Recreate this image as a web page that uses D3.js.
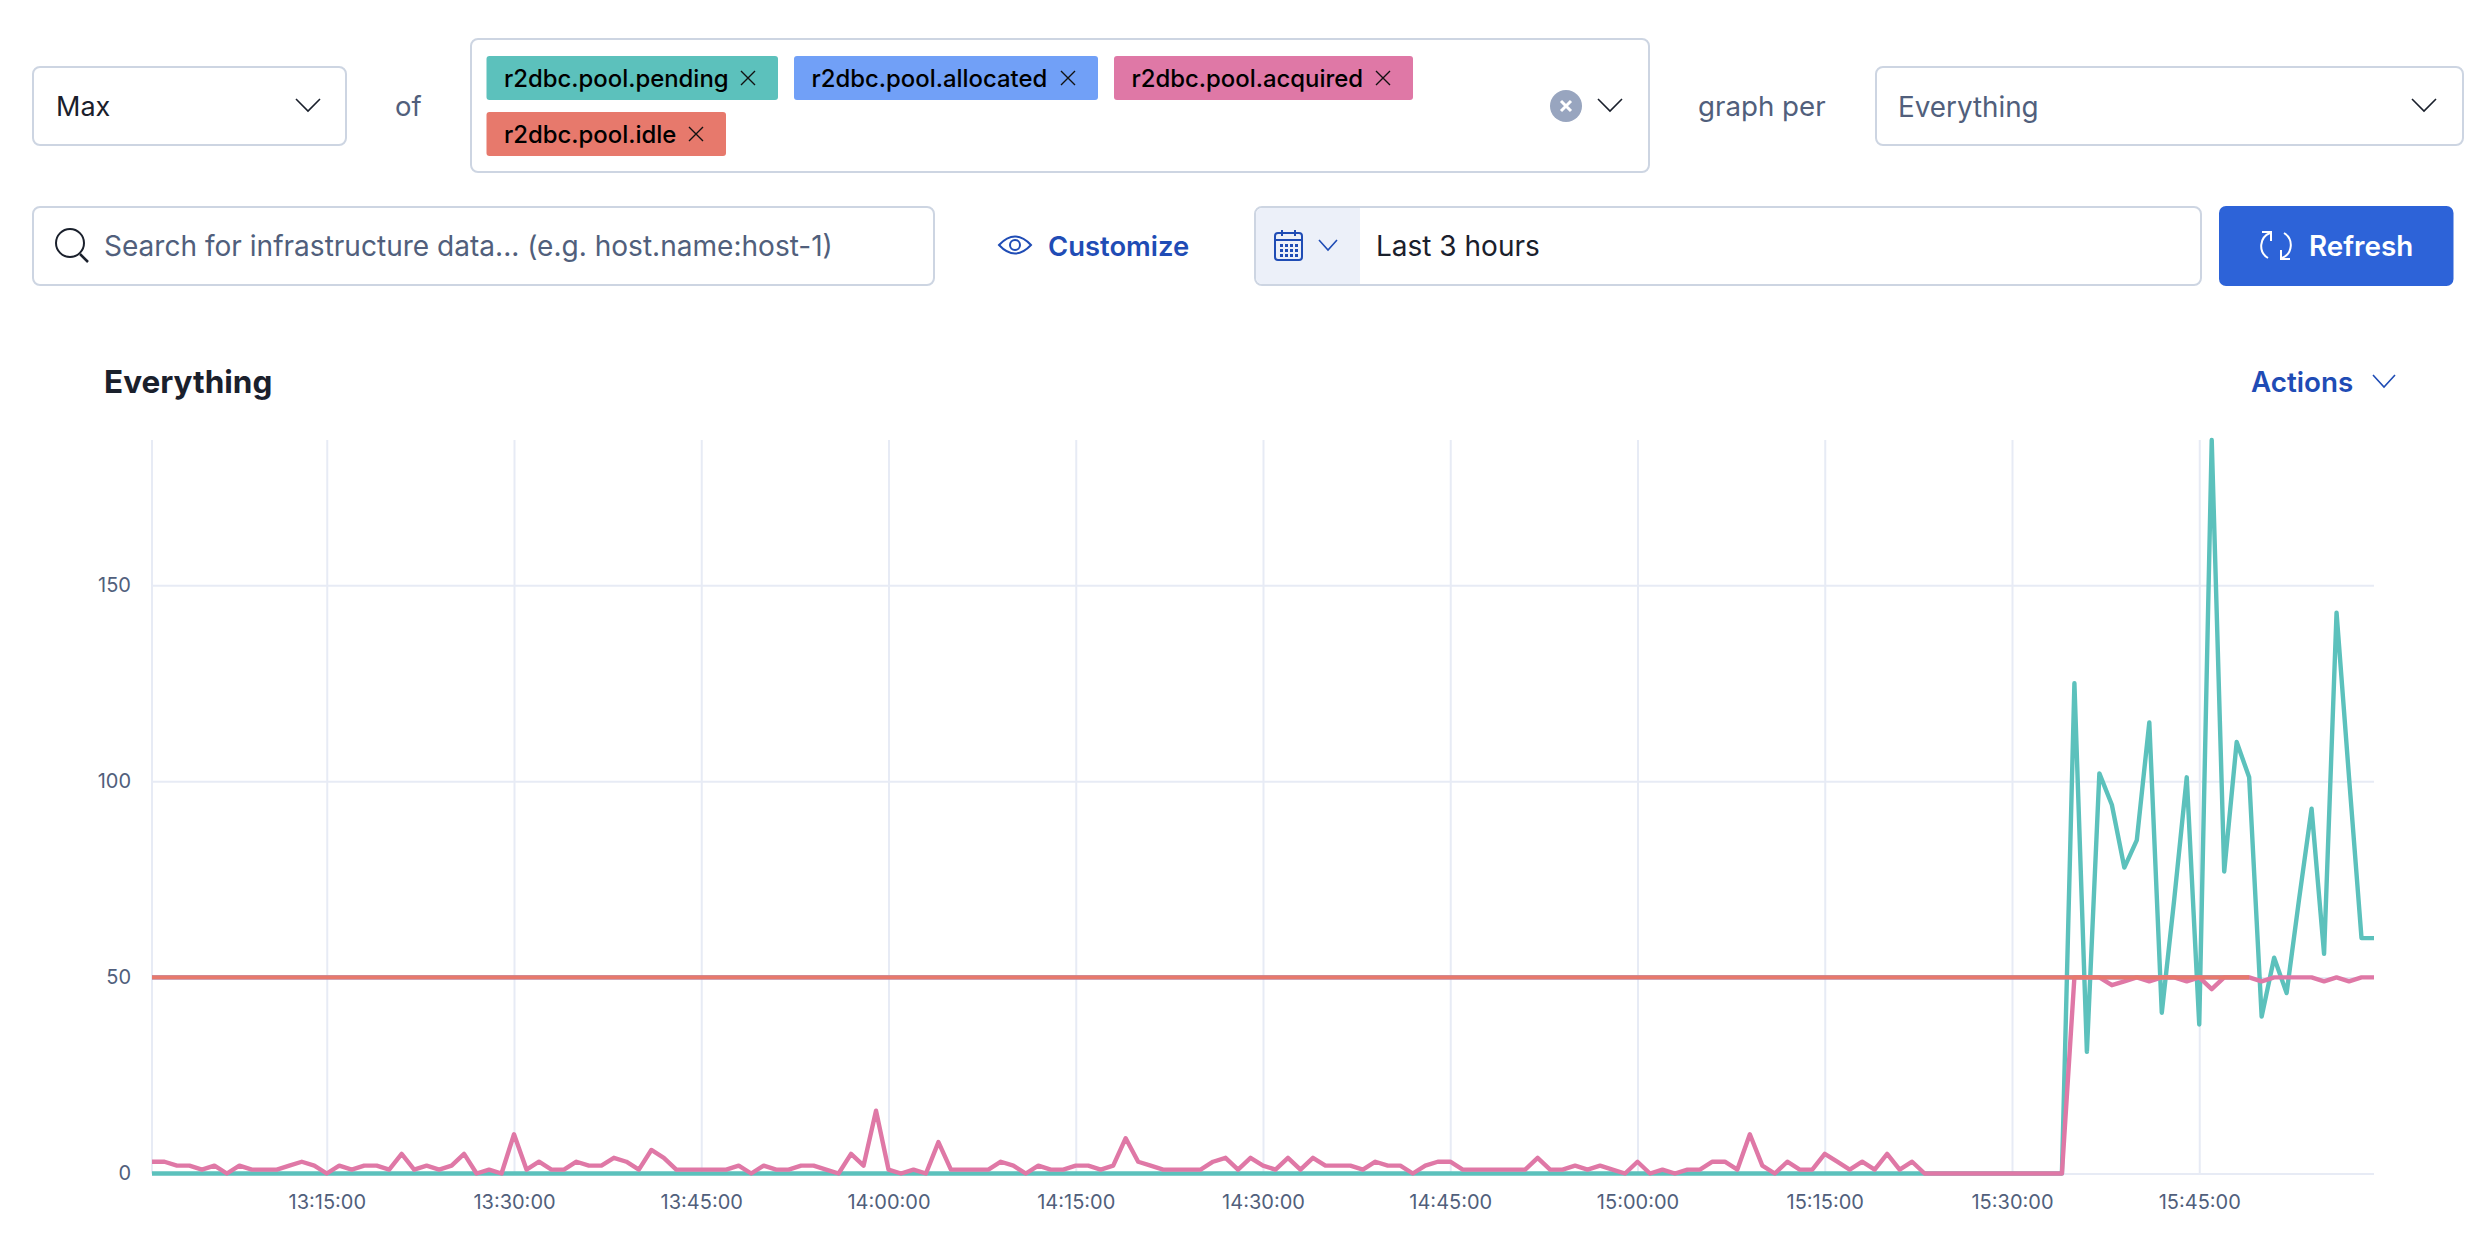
<!DOCTYPE html>
<html>
<head>
<meta charset="utf-8">
<script src="https://cdn.jsdelivr.net/npm/d3@7"></script>
<style>
  body { margin: 0; background: #fff; }
  text { font-family: Inter, "Noto Sans", sans-serif; }
</style>
</head>
<body>
<div id="container"></div>
<script>
// one sample per minute, 13:01 to 15:59
const startTime = "13:01:00"
const endTime = "15:59:00"
const xTickLabels = ["13:15:00", "13:30:00", "13:45:00", "14:00:00", "14:15:00", "14:30:00", "14:45:00", "15:00:00", "15:15:00", "15:30:00", "15:45:00"]
const yTicks = [0, 50, 100, 150]
const yMax = 187

const pending = [
  0,0,0,0,0,0,0,0,0,0, 0,0,0,0,0,0,0,0,0,0, 0,0,0,0,0,0,0,0,0,0,
  0,0,0,0,0,0,0,0,0,0, 0,0,0,0,0,0,0,0,0,0, 0,0,0,0,0,0,0,0,0,0,
  0,0,0,0,0,0,0,0,0,0, 0,0,0,0,0,0,0,0,0,0, 0,0,0,0,0,0,0,0,0,0,
  0,0,0,0,0,0,0,0,0,0, 0,0,0,0,0,0,0,0,0,0, 0,0,0,0,0,0,0,0,0,0,
  0,0,0,0,0,0,0,0,0,0, 0,0,0,0,0,0,0,0,0,0, 0,0,0,0,0,0,0,0,0,0, 0,0,0,0,
  125,31,102,94,78,85,115,41,70,101,38,187,77,110,101,40,55,46,70,93,56,143,101,60,60
]
const allocated = [
  50,50,50,50,50,50,50,50,50,50, 50,50,50,50,50,50,50,50,50,50, 50,50,50,50,50,50,50,50,50,50,
  50,50,50,50,50,50,50,50,50,50, 50,50,50,50,50,50,50,50,50,50, 50,50,50,50,50,50,50,50,50,50,
  50,50,50,50,50,50,50,50,50,50, 50,50,50,50,50,50,50,50,50,50, 50,50,50,50,50,50,50,50,50,50,
  50,50,50,50,50,50,50,50,50,50, 50,50,50,50,50,50,50,50,50,50, 50,50,50,50,50,50,50,50,50,50,
  50,50,50,50,50,50,50,50,50,50, 50,50,50,50,50,50,50,50,50,50, 50,50,50,50,50,50,50,50,50,50,
  50,50,50,50,50,50,50,50,50,50, 50,50,50,50,50,50,50,50,50
]
const acquired = [
  3,3,2,2,1,2,0,2,1,1, 1,2,3,2,0,2,1,2,2,1, 5,1,2,1,2,5,0,1,0,10,
  1,3,1,1,3,2,2,4,3,1, 6,4,1,1,1,1,1,2,0,2, 1,1,2,2,1,0,5,2,16,1,
  0,1,0,8,1,1,1,1,3,2, 0,2,1,1,2,2,1,2,9,3, 2,1,1,1,1,3,4,1,4,2,
  1,4,1,4,2,2,2,1,3,2, 2,0,2,3,3,1,1,1,1,1, 1,4,1,1,2,1,2,1,0,3,
  0,1,0,1,1,3,3,1,10,2, 0,3,1,1,5,3,1,3,1,5, 1,3,0,0,0,0,0,0,0,0, 0,0,0,0,
  50,50,50,48,49,50,49,50,50,49,50,47,50,50,50,49,50,50,50,50,49,50,49,50,50
]
const idle = [
  50,50,50,50,50,50,50,50,50,50, 50,50,50,50,50,50,50,50,50,50, 50,50,50,50,50,50,50,50,50,50,
  50,50,50,50,50,50,50,50,50,50, 50,50,50,50,50,50,50,50,50,50, 50,50,50,50,50,50,50,50,50,50,
  50,50,50,50,50,50,50,50,50,50, 50,50,50,50,50,50,50,50,50,50, 50,50,50,50,50,50,50,50,50,50,
  50,50,50,50,50,50,50,50,50,50, 50,50,50,50,50,50,50,50,50,50, 50,50,50,50,50,50,50,50,50,50,
  50,50,50,50,50,50,50,50,50,50, 50,50,50,50,50,50,50,50,50,50, 50,50,50,50,50,50,50,50,50,50,
  50,50,50,50,50,50,50,50,50,50, 50,50,50,50,50,50,50,50,50
]

const metricNames = ["r2dbc.pool.pending", "r2dbc.pool.allocated", "r2dbc.pool.acquired", "r2dbc.pool.idle"]
const metricColors = ["#5CC1BC", "#71A0F7", "#DF78A6", "#E7796C"]

const textDark = "#1A202C"
const textMuted = "#515F7C"
const linkBlue = "#1F4CB5"
const border = "#CDD5E2"
const gridColor = "#E7EBF5"

const svg = d3.select("#container")
  .append("svg")
  .attr("width", 2488)
  .attr("height", 1236)
  .style("display", "block")

// ---- form controls ----
function box(x0, x1, y0, y1) {
  svg.append("rect")
    .attr("x", x0).attr("y", y0)
    .attr("width", x1 - x0).attr("height", y1 - y0)
    .attr("rx", 7)
    .attr("fill", "#fff")
    .attr("stroke", border)
    .attr("stroke-width", 2)
}
function label(str, x, y, size, color, weight) {
  return svg.append("text")
    .attr("x", x).attr("y", y)
    .attr("dominant-baseline", "central")
    .attr("font-size", size)
    .attr("font-weight", weight || 400)
    .attr("fill", color)
    .text(str)
}
function chevron(cx, cy, color, w, h) {
  svg.append("path")
    .attr("d", `M${cx - w},${cy - h}L${cx},${cy + h}L${cx + w},${cy - h}`)
    .attr("fill", "none")
    .attr("stroke", color)
    .attr("stroke-width", 1.6)
}
function cross(cx, cy, r, color, width) {
  svg.append("path")
    .attr("d", `M${cx - r},${cy - r}L${cx + r},${cy + r}M${cx + r},${cy - r}L${cx - r},${cy + r}`)
    .attr("fill", "none")
    .attr("stroke", color)
    .attr("stroke-width", width)
}

box(33, 346, 67, 145)
label("Max", 56, 106, 27, textDark)
chevron(308, 105, textDark, 12, 6)
label("of", 395, 106, 27.5, textMuted)

box(471, 1649, 39, 172)
const tagRows = [
  { x0: 486.5, x1: 778, y0: 56, y1: 100 },
  { x0: 794, x1: 1098, y0: 56, y1: 100 },
  { x0: 1114, x1: 1413, y0: 56, y1: 100 },
  { x0: 486.5, x1: 726, y0: 112, y1: 156 }
]
tagRows.forEach((t, i) => {
  svg.append("rect")
    .attr("x", t.x0).attr("y", t.y0)
    .attr("width", t.x1 - t.x0).attr("height", t.y1 - t.y0)
    .attr("rx", 3)
    .attr("fill", metricColors[i])
  label(metricNames[i], t.x0 + 17.5, (t.y0 + t.y1) / 2, 23.9, "#000", 500)
  cross(t.x1 - 30, (t.y0 + t.y1) / 2, 7, "#111", 1.4)
})
svg.append("circle").attr("cx", 1566).attr("cy", 106).attr("r", 16).attr("fill", "#98A5BF")
cross(1566, 106, 5, "#fff", 3)
chevron(1610, 105, textDark, 12, 6)
label("graph per", 1698, 106, 27.7, textMuted)

box(1876, 2463, 67, 145)
label("Everything", 1898, 106.5, 27.8, textMuted)
chevron(2424, 105, textDark, 12, 6)

box(33, 934, 207, 285)
svg.append("circle").attr("cx", 70).attr("cy", 243).attr("r", 14)
  .attr("fill", "none").attr("stroke", textDark).attr("stroke-width", 2)
svg.append("path").attr("d", "M80,254L88,262").attr("stroke", textDark).attr("stroke-width", 2.5)
label("Search for infrastructure data... (e.g. host.name:host-1)", 104, 246, 28.05, textMuted)

// customize eye
svg.append("path")
  .attr("d", "M999,245Q1015,228 1031,245Q1015,262 999,245Z")
  .attr("fill", "none").attr("stroke", linkBlue).attr("stroke-width", 2)
svg.append("circle").attr("cx", 1015).attr("cy", 245).attr("r", 5)
  .attr("fill", "none").attr("stroke", linkBlue).attr("stroke-width", 2)
label("Customize", 1048, 246, 27.4, linkBlue, 600)

box(1255, 2201, 207, 285)
svg.append("path")
  .attr("d", "M1256,214a6,6 0 0 1 6,-6H1360V284H1262a6,6 0 0 1 -6,-6Z")
  .attr("fill", "#ECF0F9")
// calendar icon
svg.append("rect").attr("x", 1275).attr("y", 233).attr("width", 27).attr("height", 27).attr("rx", 3)
  .attr("fill", "none").attr("stroke", linkBlue).attr("stroke-width", 2)
svg.append("path").attr("d", "M1275,240H1302M1282,230V236M1295,230V236")
  .attr("stroke", linkBlue).attr("stroke-width", 2)
d3.range(3).forEach(r => d3.range(4).forEach(c => {
  svg.append("rect")
    .attr("x", 1280 + c * 5).attr("y", 244 + r * 5)
    .attr("width", 3).attr("height", 3)
    .attr("fill", linkBlue)
}))
chevron(1328, 245, linkBlue, 9, 5)
label("Last 3 hours", 1376, 246, 28, textDark)

svg.append("rect").attr("x", 2219).attr("y", 206).attr("width", 234.5).attr("height", 80).attr("rx", 7).attr("fill", "#2D63D8")
// refresh arrows
svg.append("path").attr("d", "M2270,233A14,14 0 0 0 2268,258").attr("fill", "none").attr("stroke", "#fff").attr("stroke-width", 2)
svg.append("path").attr("d", "M2282,258A14,14 0 0 0 2284,233").attr("fill", "none").attr("stroke", "#fff").attr("stroke-width", 2)
svg.append("path").attr("d", "M2262,232H2271V241M2290,259H2281V250").attr("fill", "none").attr("stroke", "#fff").attr("stroke-width", 2)
label("Refresh", 2309, 246, 27.8, "#fff", 600)

label("Everything", 104, 381, 31.5, textDark, 700)
label("Actions", 2251, 382, 27.8, linkBlue, 600)
chevron(2384, 381, linkBlue, 11, 6)

// ---- chart ----
const parseTime = d3.timeParse("%H:%M:%S")
const times = d3.timeMinute.range(parseTime(startTime), d3.timeMinute.offset(parseTime(endTime), 1))

const plot = { left: 152, right: 2374, top: 440, bottom: 1173.5 }
const x = d3.scaleTime().domain([times[0], times[times.length - 1]]).range([plot.left, plot.right])
const y = d3.scaleLinear().domain([0, yMax]).range([plot.bottom, plot.top])

// grid + tick labels
const xAxis = svg.append("g")
  .attr("transform", `translate(0,${plot.bottom})`)
  .call(d3.axisBottom(x)
    .tickValues(xTickLabels.map(parseTime))
    .tickFormat(d3.timeFormat("%H:%M:%S"))
    .tickSize(-(plot.bottom - plot.top))
    .tickPadding(21))
const yAxis = svg.append("g")
  .attr("transform", `translate(${plot.left},0)`)
  .call(d3.axisLeft(y)
    .tickValues(yTicks)
    .tickSize(-(plot.right - plot.left))
    .tickPadding(21))
;[xAxis, yAxis].forEach(g => {
  g.select(".domain").remove()
  g.selectAll(".tick line").attr("stroke", gridColor).attr("stroke-width", 2)
  g.selectAll(".tick text")
    .attr("font-family", "Inter")
    .attr("font-size", 20)
    .attr("fill", textMuted)
})
svg.append("line")
  .attr("x1", plot.left).attr("x2", plot.left)
  .attr("y1", plot.top).attr("y2", plot.bottom)
  .attr("stroke", gridColor).attr("stroke-width", 2)

// series
const line = d3.line()
  .x((d, i) => x(times[i]))
  .y(d => y(d))
;[pending, allocated, acquired, idle].forEach((values, i) => {
  svg.append("path")
    .datum(values)
    .attr("fill", "none")
    .attr("stroke", metricColors[i])
    .attr("stroke-width", 4.4)
    .attr("stroke-linejoin", "round")
    .attr("d", line)
})
</script>
</body>
</html>
